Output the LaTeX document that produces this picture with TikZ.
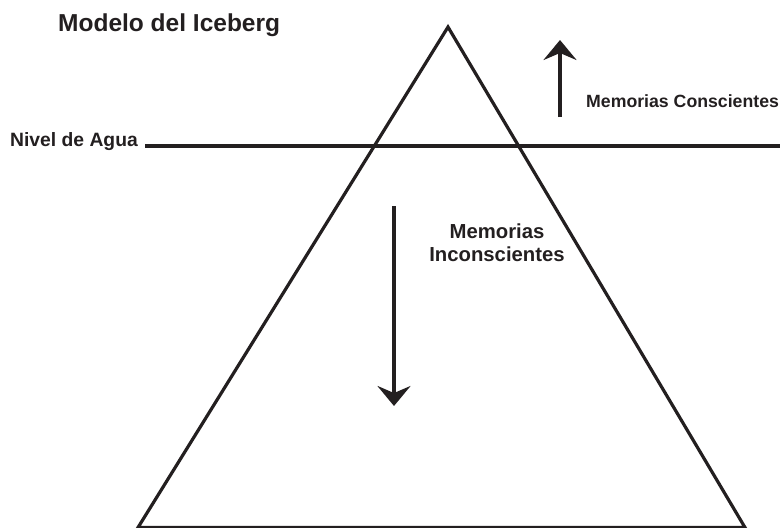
\documentclass[tikz,border=0pt]{standalone}
\usepackage{fontspec}
\setmainfont{Liberation Sans}
\usetikzlibrary{arrows.meta}
\definecolor{ink}{HTML}{231F20}
\begin{document}
\begin{tikzpicture}[x=1pt,y=-1pt,
  lbl/.style={inner sep=0pt, text=ink},
  ttl/.style={inner sep=0pt, text=ink, font=\bfseries\fontsize{24.5}{28}\selectfont},
  edge/.style={draw=ink, line width=3.2pt},
  bigarrow/.style={draw=ink, line width=3.5pt, -{Stealth[length=20pt,width=33pt,inset=7pt]}}]
\useasboundingbox (0,0) rectangle (780,528);
% iceberg
\coordinate (apex) at (448,27);
\coordinate (bl) at (138,527.5);
\coordinate (br) at (745,527.5);
\draw[edge, line join=miter] (bl) -- (apex) -- (br) -- cycle;
% texts
\node[ttl, anchor=base west] (title) at (58,31) {Modelo del Iceberg};
\node[lbl, anchor=base west, font=\bfseries\fontsize{19.3}{22}\selectfont] (nivel) at (10,146) {Nivel de Agua};
\node[lbl, anchor=base west, font=\bfseries\fontsize{17.7}{22}\selectfont] (consc) at (586,107) {Memorias Conscientes};
\node[lbl, anchor=base, align=center, font=\bfseries\fontsize{20.3}{22.5}\selectfont] (incon) at (497,261) {Memorias\\Inconscientes};
% water line
\coordinate (wstart) at (145,146);
\coordinate (wend) at (780,146);
\draw[draw=ink, line width=3.5pt] (wstart) -- (wend);
% arrows
\coordinate (upS) at (560,117);
\coordinate (upE) at (560,40);
\draw[bigarrow] (upS) -- (upE);
\coordinate (dnS) at (394,206);
\coordinate (dnE) at (394,406);
\draw[bigarrow] (dnS) -- (dnE);
\end{tikzpicture}
\end{document}
